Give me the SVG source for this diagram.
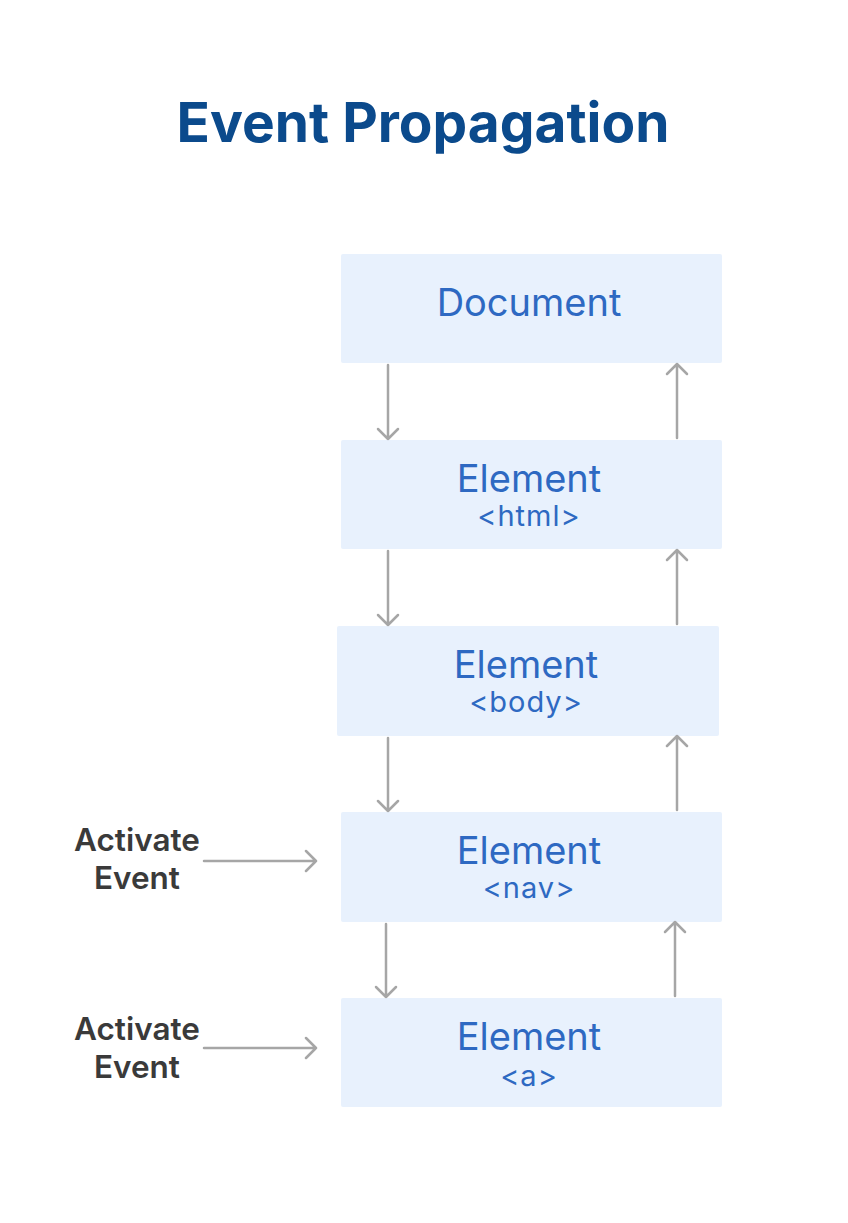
<svg xmlns="http://www.w3.org/2000/svg" width="848" height="1223" viewBox="0 0 848 1223">
<style>
.box{fill:#e8f1fd}
.main{font-family:Inter,"Liberation Sans",sans-serif;font-size:38px;fill:#2e69c2;text-anchor:middle}
.sub{font-family:Inter,"Liberation Sans",sans-serif;font-size:29px;letter-spacing:1px;fill:#2e69c2;text-anchor:middle}
.lbl{font-family:Inter,"Liberation Sans",sans-serif;font-size:31.5px;font-weight:600;fill:#3a3a3a;text-anchor:middle}
.title{font-family:Inter,"Liberation Sans",sans-serif;font-size:55px;font-weight:700;fill:#0b4a8c;text-anchor:middle}
.con{stroke:#a6a6a6;stroke-width:2.5;fill:none;stroke-linecap:round;stroke-linejoin:round}
</style>
<rect width="848" height="1223" fill="#ffffff"/>
<text class="title" x="423" y="142">Event Propagation</text>
<g id="document"><rect class="box" x="341" y="254" width="381" height="109" rx="2"/><text class="main" x="529" y="316">Document</text></g>
<g id="html"><rect class="box" x="341" y="440" width="381" height="109" rx="2"/><text class="main" x="529" y="492">Element</text><text class="sub" x="529" y="526">&lt;html&gt;</text></g>
<g id="body"><rect class="box" x="337" y="626" width="382" height="110" rx="2"/><text class="main" x="526" y="678">Element</text><text class="sub" x="526" y="712">&lt;body&gt;</text></g>
<g id="nav"><rect class="box" x="341" y="812" width="381" height="110" rx="2"/><text class="main" x="529" y="864">Element</text><text class="sub" x="529" y="898">&lt;nav&gt;</text></g>
<g id="a"><rect class="box" x="341" y="998" width="381" height="109" rx="2"/><text class="main" x="529" y="1050">Element</text><text class="sub" x="529" y="1086">&lt;a&gt;</text></g>
<g id="label1"><text class="lbl" x="137" y="851">Activate</text><text class="lbl" x="137" y="889">Event</text></g>
<g id="label2"><text class="lbl" x="137" y="1040">Activate</text><text class="lbl" x="137" y="1078">Event</text></g>
<g id="connectors" class="con">
<path d="M388 365V439M378 429L388 439L398 429"/>
<path d="M677 438V364M667 374L677 364L687 374"/>
<path d="M388 551V625M378 615L388 625L398 615"/>
<path d="M677 624V550M667 560L677 550L687 560"/>
<path d="M388 738V811M378 801L388 811L398 801"/>
<path d="M677 810V736M667 746L677 736L687 746"/>
<path d="M386 924V997M376 987L386 997L396 987"/>
<path d="M675 996V922M665 932L675 922L685 932"/>
<path d="M204 861H316M306 851L316 861L306 871"/>
<path d="M204 1048H316M306 1038L316 1048L306 1058"/>
</g>
</svg>
